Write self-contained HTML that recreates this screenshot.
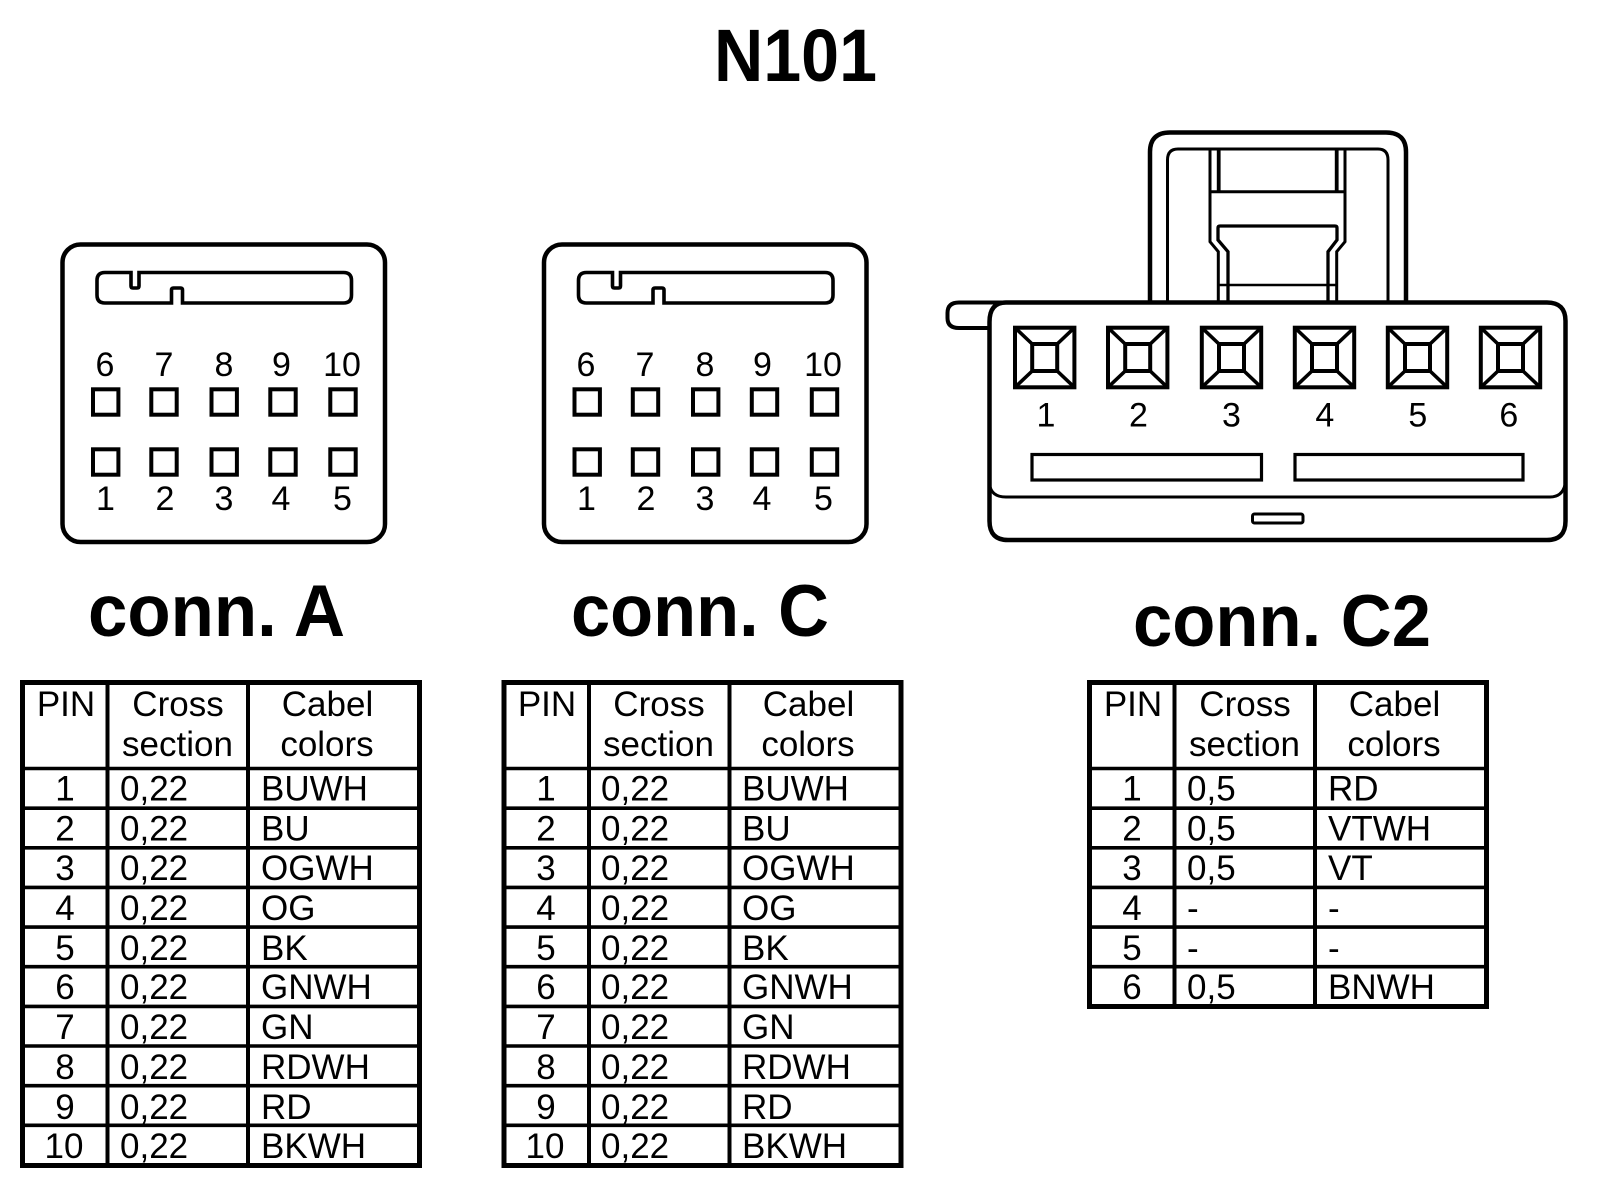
<!DOCTYPE html>
<html><head><meta charset="utf-8"><title>N101</title>
<style>
html,body{margin:0;padding:0;background:#fff;width:1600px;height:1204px;overflow:hidden}
svg{display:block}
text{font-family:"Liberation Sans",Arial,sans-serif;fill:#000}
.b{font-weight:bold}
.t{font-size:35px}
.m{text-anchor:middle}
.p{font-size:34px;text-anchor:middle}
.s{fill:none;stroke:#000}
</style></head><body>
<svg xmlns="http://www.w3.org/2000/svg" width="1600" height="1204" viewBox="0 0 1600 1204">
<rect width="1600" height="1204" fill="#fff"/>
<defs>
<g id="conn">
<rect class="s" x="62.500" y="244.500" width="322.500" height="297.500" rx="18" stroke-width="4.500"/>
<path class="s" stroke-width="3.600" d="M105 272.500H131V286Q131 288 133 288H137Q139 288 139 286V272.500H343.500Q351.500 272.500 351.500 280.500V295Q351.500 303 343.500 303H182.500V290Q182.500 288 180.500 288H173.500Q171.500 288 171.500 290V303H105Q97 303 97 295V280.500Q97 272.500 105 272.500Z"/>
<g class="s" stroke-width="4">
<rect x="93" y="389.300" width="25.400" height="25.400"/><rect x="151.300" y="389.300" width="25.400" height="25.400"/><rect x="211.500" y="389.300" width="25.400" height="25.400"/><rect x="270.300" y="389.300" width="25.400" height="25.400"/><rect x="330.300" y="389.300" width="25.400" height="25.400"/>
<rect x="93" y="449.300" width="25.400" height="25.400"/><rect x="151.300" y="449.300" width="25.400" height="25.400"/><rect x="211.500" y="449.300" width="25.400" height="25.400"/><rect x="270.300" y="449.300" width="25.400" height="25.400"/><rect x="330.300" y="449.300" width="25.400" height="25.400"/>
</g>
</g>
<g id="pin" class="s" stroke-width="3.600">
<rect x="-29.700" y="-29.800" width="59.400" height="59.600" stroke-width="4"/>
<rect x="-12.500" y="-13.500" width="25" height="27" stroke-width="4"/>
<path d="M-29.700-29.800L-12.500-13.500M29.700-29.800L12.500-13.500M-29.700 29.800L-12.500 13.500M29.700 29.800L12.500 13.500"/>
</g>
<g id="rows10" class="s" stroke-width="3.600">
<path d="M22 768.500H420M22 808.200H420M22 847.800H420M22 887.400H420M22 927.100H420M22 966.700H420M22 1006.400H420M22 1046H420M22 1085.700H420M22 1125.300H420"/>
<path d="M107.500 683V1165M248 683V1165" stroke-width="4"/>
<rect x="22.500" y="682.500" width="397" height="483" stroke-width="5"/>
</g>
</defs>

<text class="b" x="714" y="81" font-size="74" textLength="163" lengthAdjust="spacingAndGlyphs">N101</text>
<text class="b" x="88" y="636" font-size="73" textLength="257" lengthAdjust="spacingAndGlyphs">conn. A</text>
<text class="b" x="571" y="636" font-size="73" textLength="258" lengthAdjust="spacingAndGlyphs">conn. C</text>
<text class="b" x="1133" y="646" font-size="73" textLength="298" lengthAdjust="spacingAndGlyphs">conn. C2</text>

<!-- connector A -->
<use href="#conn"/>
<g>
<text class="p" x="105" y="376">6</text><text class="p" x="164" y="376">7</text><text class="p" x="224" y="376">8</text><text class="p" x="281.500" y="376">9</text><text class="p" x="342" y="376">10</text>
<text class="p" x="105.500" y="510">1</text><text class="p" x="165" y="510">2</text><text class="p" x="224" y="510">3</text><text class="p" x="281" y="510">4</text><text class="p" x="342.500" y="510">5</text>
</g>

<!-- connector C -->
<use href="#conn" x="481.500"/>
<g transform="translate(481 0)">
<text class="p" x="105" y="376">6</text><text class="p" x="164" y="376">7</text><text class="p" x="224" y="376">8</text><text class="p" x="281.500" y="376">9</text><text class="p" x="342" y="376">10</text>
<text class="p" x="105.500" y="510">1</text><text class="p" x="165" y="510">2</text><text class="p" x="224" y="510">3</text><text class="p" x="281" y="510">4</text><text class="p" x="342.500" y="510">5</text>
</g>

<!-- connector C2 -->
<g class="s">
<path stroke-width="4.500" d="M1150 302V152Q1150 132.500 1170 132.500H1386Q1406 132.500 1406 152V302"/>
<path stroke-width="3" d="M1167.500 302V160Q1167.500 149 1178 149H1378Q1388 149 1388 160V302"/>
<path stroke-width="3" d="M1210 149V241.700L1218.300 251.700V302M1345 149V241.700L1336.700 251.700V302M1210 191.700H1345"/>
<path stroke-width="3.800" d="M1218.700 149V191.700M1336.700 149V191.700"/>
<path stroke-width="3.300" d="M1228 302V251.700L1218 240V228Q1218 226 1220 226H1335Q1337 226 1337 228V240L1328 251.700V302"/>
<path stroke-width="2.500" d="M1218 285H1337"/>
<path stroke-width="4.500" d="M1006 302.500H1547Q1565.500 302.500 1565.500 321V521Q1565.500 540 1547 540H1008Q989.500 540 989.500 521V322Q989.500 302.500 1006 302.500"/>
<path stroke-width="4" d="M989.500 328H959Q947.500 328 947.500 318V313Q947.500 302.500 959 302.500H1006"/>
<path stroke-width="3" d="M989.500 484Q991 497 1006 497H1550Q1562 497 1565 485"/>
<rect x="1032" y="454.500" width="229.500" height="25.500" stroke-width="3.200"/>
<rect x="1295" y="454.500" width="228" height="25.500" stroke-width="3.200"/>
<rect x="1252.500" y="514" width="50.500" height="9" rx="2" stroke-width="3"/>
</g>
<use href="#pin" x="1044.700" y="357.500"/>
<use href="#pin" x="1137.700" y="357.500"/>
<use href="#pin" x="1231.500" y="357.500"/>
<use href="#pin" x="1324.500" y="357.500"/>
<use href="#pin" x="1417.500" y="357.500"/>
<use href="#pin" x="1510.500" y="357.500"/>
<text class="p" x="1046" y="426.500">1</text>
<text class="p" x="1138.500" y="426.500">2</text>
<text class="p" x="1231.500" y="426.500">3</text>
<text class="p" x="1324.800" y="426.500">4</text>
<text class="p" x="1417.800" y="426.500">5</text>
<text class="p" x="1508.800" y="426.500">6</text>

<!-- table A -->
<use href="#rows10"/>
<g class="t">
<text class="m" x="66" y="716">PIN</text><text class="m" x="178" y="716">Cross</text><text class="m" x="327.500" y="716">Cabel</text>
<text class="m" x="177.500" y="756">section</text><text class="m" x="327" y="756">colors</text>
<text class="m" x="65" y="800.500">1</text><text x="120" y="800.500">0,22</text><text x="261" y="800.500">BUWH</text>
<text class="m" x="65" y="840.500">2</text><text x="120" y="840.500">0,22</text><text x="261" y="840.500">BU</text>
<text class="m" x="65" y="880">3</text><text x="120" y="880">0,22</text><text x="261" y="880">OGWH</text>
<text class="m" x="65" y="920">4</text><text x="120" y="920">0,22</text><text x="261" y="920">OG</text>
<text class="m" x="65" y="960">5</text><text x="120" y="960">0,22</text><text x="261" y="960">BK</text>
<text class="m" x="65" y="999">6</text><text x="120" y="999">0,22</text><text x="261" y="999">GNWH</text>
<text class="m" x="65" y="1039">7</text><text x="120" y="1039">0,22</text><text x="261" y="1039">GN</text>
<text class="m" x="65" y="1079">8</text><text x="120" y="1079">0,22</text><text x="261" y="1079">RDWH</text>
<text class="m" x="65" y="1119">9</text><text x="120" y="1119">0,22</text><text x="261" y="1119">RD</text>
<text class="m" x="64" y="1158">10</text><text x="120" y="1158">0,22</text><text x="261" y="1158">BKWH</text>
</g>

<!-- table C -->
<use href="#rows10" x="481.500"/>
<g class="t" transform="translate(481 0)">
<text class="m" x="66" y="716">PIN</text><text class="m" x="178" y="716">Cross</text><text class="m" x="327.500" y="716">Cabel</text>
<text class="m" x="177.500" y="756">section</text><text class="m" x="327" y="756">colors</text>
<text class="m" x="65" y="800.500">1</text><text x="120" y="800.500">0,22</text><text x="261" y="800.500">BUWH</text>
<text class="m" x="65" y="840.500">2</text><text x="120" y="840.500">0,22</text><text x="261" y="840.500">BU</text>
<text class="m" x="65" y="880">3</text><text x="120" y="880">0,22</text><text x="261" y="880">OGWH</text>
<text class="m" x="65" y="920">4</text><text x="120" y="920">0,22</text><text x="261" y="920">OG</text>
<text class="m" x="65" y="960">5</text><text x="120" y="960">0,22</text><text x="261" y="960">BK</text>
<text class="m" x="65" y="999">6</text><text x="120" y="999">0,22</text><text x="261" y="999">GNWH</text>
<text class="m" x="65" y="1039">7</text><text x="120" y="1039">0,22</text><text x="261" y="1039">GN</text>
<text class="m" x="65" y="1079">8</text><text x="120" y="1079">0,22</text><text x="261" y="1079">RDWH</text>
<text class="m" x="65" y="1119">9</text><text x="120" y="1119">0,22</text><text x="261" y="1119">RD</text>
<text class="m" x="64" y="1158">10</text><text x="120" y="1158">0,22</text><text x="261" y="1158">BKWH</text>
</g>

<!-- table C2 -->
<g class="s" stroke-width="3.600" transform="translate(1067 0)">
<path d="M22 768.500H420M22 808.200H420M22 847.800H420M22 887.400H420M22 927.100H420M22 966.700H420"/>
<path d="M107.500 683V1006M248 683V1006" stroke-width="4"/>
<rect x="22.500" y="682.500" width="397" height="324" stroke-width="5"/>
</g>
<g class="t" transform="translate(1067 0)">
<text class="m" x="66" y="716">PIN</text><text class="m" x="178" y="716">Cross</text><text class="m" x="327.500" y="716">Cabel</text>
<text class="m" x="177.500" y="756">section</text><text class="m" x="327" y="756">colors</text>
<text class="m" x="65" y="800.500">1</text><text x="120" y="800.500">0,5</text><text x="261" y="800.500">RD</text>
<text class="m" x="65" y="840.500">2</text><text x="120" y="840.500">0,5</text><text x="261" y="840.500">VTWH</text>
<text class="m" x="65" y="880">3</text><text x="120" y="880">0,5</text><text x="261" y="880">VT</text>
<text class="m" x="65" y="920">4</text><text x="120" y="920">-</text><text x="261" y="920">-</text>
<text class="m" x="65" y="960">5</text><text x="120" y="960">-</text><text x="261" y="960">-</text>
<text class="m" x="65" y="999">6</text><text x="120" y="999">0,5</text><text x="261" y="999">BNWH</text>
</g>
</svg>
</body></html>
